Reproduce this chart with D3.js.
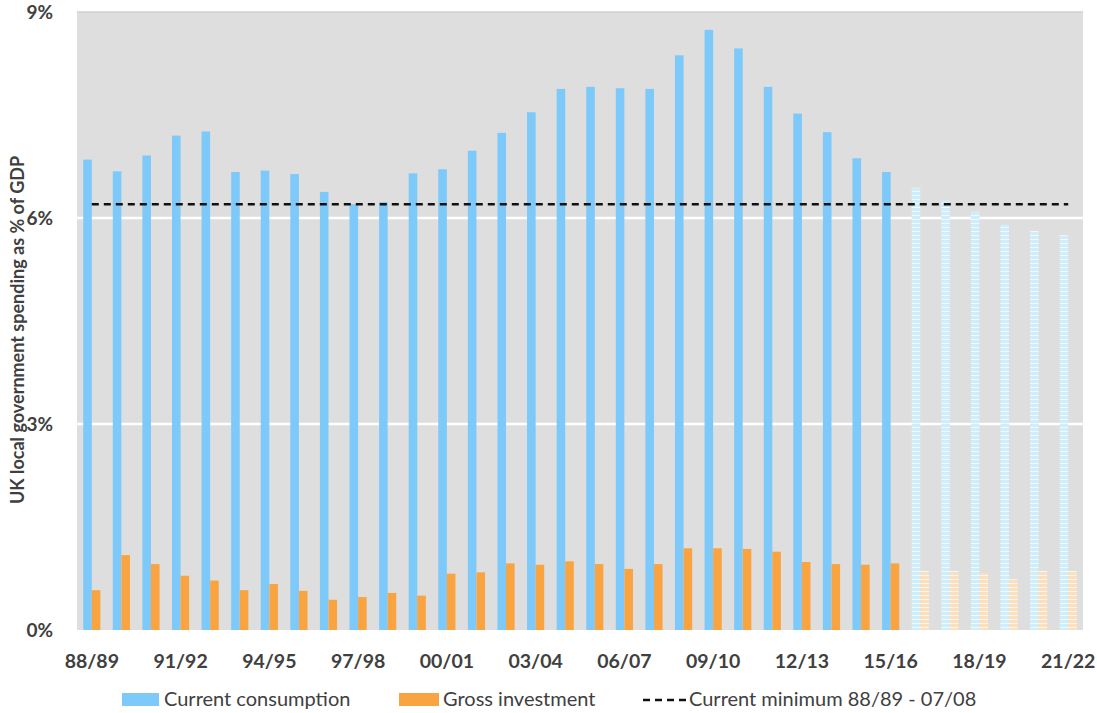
<!DOCTYPE html>
<html><head><meta charset="utf-8">
<script src="https://cdn.jsdelivr.net/npm/d3@7"></script>
<style>body{margin:0;background:#fff}svg{display:block}text{font-family:Lato,"Open Sans",sans-serif;fill:#404040}</style>
</head><body><div id="chart"></div>
<script>
const years = ["88/89","89/90","90/91","91/92","92/93","93/94","94/95","95/96","96/97","97/98","98/99","99/00","00/01","01/02","02/03","03/04","04/05","05/06","06/07","07/08","08/09","09/10","10/11","11/12","12/13","13/14","14/15","15/16","16/17","17/18","18/19","19/20","20/21","21/22"];
const consumption = [6.85,6.68,6.91,7.20,7.26,6.67,6.69,6.64,6.38,6.20,6.23,6.65,6.71,6.98,7.24,7.54,7.88,7.91,7.89,7.88,8.37,8.74,8.47,7.91,7.52,7.25,6.87,6.67,6.44,6.26,6.09,5.90,5.81,5.75];
const investment = [0.58,1.09,0.96,0.79,0.72,0.58,0.67,0.57,0.44,0.48,0.54,0.50,0.82,0.84,0.97,0.95,1.00,0.96,0.89,0.96,1.19,1.19,1.18,1.14,0.99,0.96,0.95,0.97,0.86,0.86,0.83,0.74,0.86,0.86];
const projectedFrom = "16/17";
const currentMinimum = 6.20;
const yTicks = [0,3,6,9];
const xTickLabels = ["88/89","91/92","94/95","97/98","00/01","03/04","06/07","09/10","12/13","15/16","18/19","21/22"];
const seriesNames = ["Current consumption","Gross investment"];
const minLabel = "Current minimum 88/89 - 07/08";
const yTitle = "UK local government spending as % of GDP";

const W=1097,H=713;
const m={left:77,right:14,top:12,bottom:83};
const svg=d3.select("#chart").append("svg").attr("width",W).attr("height",H);
const defs=svg.append("defs");
function stripe(id,bg){
  const p=defs.append("pattern").attr("id",id).attr("patternUnits","userSpaceOnUse").attr("width",8).attr("height",4);
  p.append("rect").attr("width",8).attr("height",4).attr("fill",bg);
  p.append("rect").attr("y",3).attr("width",8).attr("height",1).attr("fill","#f4f8f9");
}
stripe("pc","#cdeefa");
stripe("pi","#fde0b9");

const x0=d3.scaleBand().domain(years).range([m.left,W-m.right]).paddingInner(0.42).paddingOuter(0.21);
const x1=d3.scaleBand().domain(["c","i"]).range([0,x0.bandwidth()]);
const y=d3.scaleLinear().domain([0,9]).range([H-m.bottom,m.top]);

svg.append("rect").attr("x",m.left).attr("y",m.top).attr("width",W-m.right-m.left).attr("height",y(0)-m.top).attr("fill","#dedede");
svg.append("line").attr("x1",m.left).attr("x2",W-m.right).attr("y1",m.top).attr("y2",m.top).attr("stroke","#d0d0d0").attr("stroke-width",1.5);
svg.append("g").selectAll("line").data(yTicks.filter(v=>v>0&&v<9)).join("line")
  .attr("x1",m.left).attr("x2",W-m.right).attr("y1",d=>y(d)).attr("y2",d=>y(d))
  .attr("stroke","#fff").attr("stroke-width",2.5);

const pIdx=years.indexOf(projectedFrom);
const g=svg.append("g");
years.forEach((yr,i)=>{
  const proj=i>=pIdx;
  g.append("rect").attr("x",x0(yr)+x1("c")).attr("width",x1.bandwidth()).attr("y",y(consumption[i])).attr("height",y(0)-y(consumption[i]))
    .attr("fill",proj?"url(#pc)":"#7dcafa");
  g.append("rect").attr("x",x0(yr)+x1("i")).attr("width",x1.bandwidth()).attr("y",y(investment[i])).attr("height",y(0)-y(investment[i]))
    .attr("fill",proj?"url(#pi)":"#f9a441");
});

svg.append("line").attr("x1",x0(years[0])+x0.bandwidth()/2).attr("x2",x0(years[years.length-1])+x0.bandwidth()/2)
  .attr("y1",y(currentMinimum)).attr("y2",y(currentMinimum)).attr("stroke","#111").attr("stroke-width",2.5).attr("stroke-dasharray","7,5");

// y axis
const ya=svg.append("g").attr("transform",`translate(${m.left},0)`).call(d3.axisLeft(y).tickValues(yTicks).tickFormat(d=>d+"%").tickSize(0).tickPadding(24));
ya.select(".domain").remove();
ya.selectAll("text").style("font-size","19px").style("font-weight","700").style("font-family","Lato").attr("fill","#404040");

// x axis
const xa=svg.append("g").attr("transform",`translate(0,${y(0)})`).call(d3.axisBottom(x0).tickValues(xTickLabels).tickSize(0).tickPadding(24));
xa.select(".domain").remove();
xa.selectAll("text").style("font-size","19.5px").style("font-weight","700").style("font-family","Lato").attr("fill","#404040");

svg.append("text").attr("transform",`translate(24,${(y(0)+m.top)/2+9}) rotate(-90)`).attr("text-anchor","middle")
  .style("font-size","18px").style("font-weight","700").text(yTitle);

// legend
const ly=700;
const lg=svg.append("g");
lg.append("rect").attr("x",122).attr("y",ly-7).attr("width",37).attr("height",13).attr("fill","#7dcafa");
lg.append("text").attr("x",164).attr("y",ly+6).style("font-size","20px").style("font-weight","400").text(seriesNames[0]);
lg.append("rect").attr("x",399).attr("y",ly-7).attr("width",40).attr("height",13).attr("fill","#f9a441");
lg.append("text").attr("x",443).attr("y",ly+6).style("font-size","20px").style("font-weight","400").text(seriesNames[1]);
lg.append("line").attr("x1",643).attr("x2",688).attr("y1",ly).attr("y2",ly).attr("stroke","#111").attr("stroke-width",2.5).attr("stroke-dasharray","7,5");
lg.append("text").attr("x",689).attr("y",ly+6).style("font-size","20px").style("font-weight","400").text(minLabel);
</script></body></html>
